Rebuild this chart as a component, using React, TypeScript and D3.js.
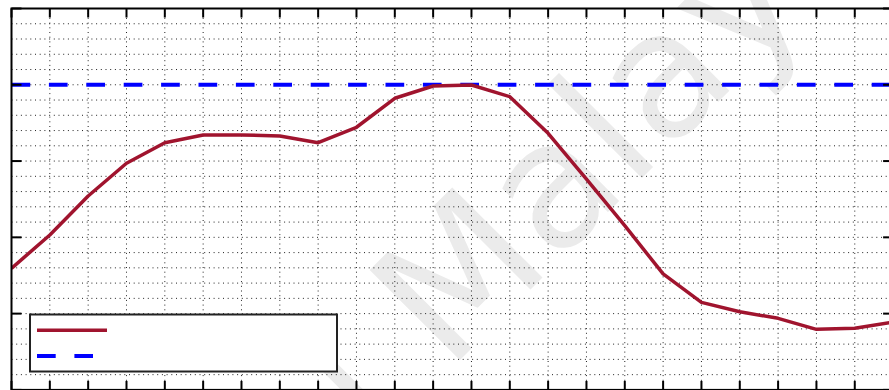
import React from "react";
import * as d3 from "d3";

const hours = d3.range(0, 24);
const seriesValues = [
  1.594, 2.031, 2.542, 2.971, 3.241, 3.342, 3.342, 3.329, 3.241, 3.443, 3.823, 3.984,
  3.997, 3.844, 3.364, 2.763, 2.153, 1.52, 1.148, 1.025, 0.938, 0.794, 0.807, 0.89,
];
const referenceValue = 4.0;
const yMajorTicks = [0, 1, 2, 3, 4, 5];
const yGridTicks = d3.range(0, 26).map((d) => d / 5);
const xTicks = d3.range(0, 24);
const watermarkText = "i Malaysia";

export default function App() {
  const W = 889;
  const H = 390;
  const x = d3.scaleLinear().domain([0, 23]).range([11.5, 893.1]);
  const y = d3.scaleLinear().domain([0, 5]).range([389.9, 8.5]);
  const line = d3
    .line<number>()
    .x((_, i) => x(hours[i]))
    .y((d) => y(d));
  const x0 = x(0), x1 = x(23), yT = y(5), yB = y(0);
  const red = "#a0142e";
  const blue = "#0000ff";
  return (
    <svg
      width={W}
      height={H}
      style={{ position: "absolute", left: 0, top: 0, background: "#fff" }}
    >
      <defs>
        <clipPath id="plot">
          <rect x={x0} y={yT} width={x1 - x0} height={yB - yT} />
        </clipPath>
      </defs>
      <rect x={0} y={0} width={W} height={H} fill="#fff" />
      <text
        transform={`translate(374,446) rotate(-45)`}
        fontFamily="DejaVu Sans, sans-serif"
        fontSize={175}
        fill="#ebebeb"
      >
        {watermarkText}
      </text>
      <g clipPath="url(#plot)">
        {yGridTicks.map((t) => (
          <line
            key={"h" + t}
            x1={x0}
            x2={x1}
            y1={y(t)}
            y2={y(t)}
            stroke="#222"
            strokeWidth={1}
            strokeDasharray="1,3.7"
          />
        ))}
        {xTicks.map((t) => (
          <line
            key={"v" + t}
            x1={x(t)}
            x2={x(t)}
            y1={yT}
            y2={yB}
            stroke="#222"
            strokeWidth={1}
            strokeDasharray="1,3.7"
          />
        ))}
        <line
          x1={x0}
          x2={x1}
          y1={y(referenceValue)}
          y2={y(referenceValue)}
          stroke={blue}
          strokeWidth={4}
          strokeDasharray="18.7,18.7"
        />
        <path d={line(seriesValues) || ""} fill="none" stroke={red} strokeWidth={3.5} strokeLinejoin="round" />
      </g>
      {xTicks.map((t) => (
        <g key={"xt" + t}>
          <line x1={x(t)} x2={x(t)} y1={yT} y2={yT + 9} stroke="#000" strokeWidth={2} />
          <line x1={x(t)} x2={x(t)} y1={yB} y2={yB - 9} stroke="#000" strokeWidth={2} />
        </g>
      ))}
      {yMajorTicks.map((t) => (
        <g key={"yt" + t}>
          <line x1={x0} x2={x0 + 10} y1={y(t)} y2={y(t)} stroke="#000" strokeWidth={2} />
          <line x1={x1} x2={x1 - 10} y1={y(t)} y2={y(t)} stroke="#000" strokeWidth={2} />
        </g>
      ))}
      <rect x={x0} y={yT} width={x1 - x0} height={yB - yT} fill="none" stroke="#000" strokeWidth={2} />
      <rect x={30} y={314.5} width={307} height={57} fill="#fff" stroke="#222" strokeWidth={2} />
      <line x1={37} x2={107} y1={330.3} y2={330.3} stroke={red} strokeWidth={3.5} />
      <line x1={37} x2={93} y1={356} y2={356} stroke={blue} strokeWidth={4} strokeDasharray="18.7,18.7" />
    </svg>
  );
}
